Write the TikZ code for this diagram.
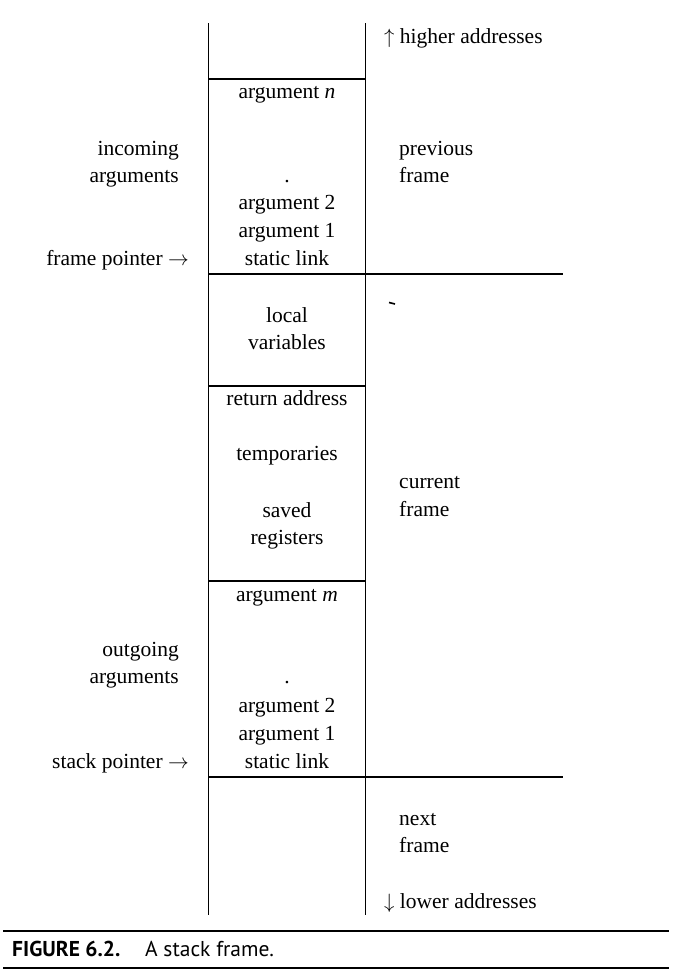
\documentclass[tikz,border=0pt]{standalone}
\usepackage{fontspec}
\setmainfont{Liberation Serif}
\newfontfamily\capfont{PT Sans}
\begin{document}
\begin{tikzpicture}[x=1pt,y=-1pt,
  lbl/.style={inner sep=0pt, font=\fontsize{21.5}{25}\selectfont},
  mid/.style={lbl, anchor=base},
  lft/.style={lbl, anchor=base east},
  rgt/.style={lbl, anchor=base west},
  wall/.style={line width=1.3pt},
  rulebar/.style={line width=2.6pt},
  captxt/.style={inner sep=0pt, anchor=base west, font=\capfont\fontsize{21.5}{24}\selectfont}]
\useasboundingbox (0,0) rectangle (673,975);
% stack walls
\draw[wall] (208.5,23) -- (208.5,915);
\draw[wall] (365.5,23) -- (365.5,915);
% separators
\draw[wall] (208.5,79) -- (365.5,79);
\draw[wall] (208.5,274) -- (563,274);
\draw[wall] (208.5,386) -- (365.5,386);
\draw[wall] (208.5,581) -- (365.5,581);
\draw[wall] (208.5,777) -- (563,777);
% stray mark
\draw[line width=1.6pt] (389,302.5) -- (395,304);
% right side labels
\node[rgt] (hi) at (384,43) {$\uparrow$ higher addresses};
\node[rgt] (prev1) at (399,155) {previous};
\node[rgt] (prev2) at (399,182) {frame};
\node[rgt] (cur1) at (399,488) {current};
\node[rgt] (cur2) at (399,516) {frame};
\node[rgt] (nxt1) at (399,825) {next};
\node[rgt] (nxt2) at (399,852) {frame};
\node[rgt] (lo) at (384,908) {$\downarrow$ lower addresses};
% left side labels
\node[lft] (inc1) at (179,155) {incoming};
\node[lft] (inc2) at (179,182) {arguments};
\node[lft] (fp) at (189,265) {frame pointer $\rightarrow$};
\node[lft] (out1) at (179,656) {outgoing};
\node[lft] (out2) at (179,683) {arguments};
\node[lft] (sp) at (189,768) {stack pointer $\rightarrow$};
% cell contents
\node[mid] (argn) at (287,98) {argument \textit{n}};
\node[mid] (dot1) at (287,182) {.};
\node[mid] (a2i) at (287,209) {argument 2};
\node[mid] (a1i) at (287,237) {argument 1};
\node[mid] (sli) at (287,265) {static link};
\node[mid] (loc1) at (287,322) {local};
\node[mid] (loc2) at (287,349) {variables};
\node[mid] (ret) at (287,405) {return address};
\node[mid] (tmp) at (287,460) {temporaries};
\node[mid] (sav1) at (287,517) {saved};
\node[mid] (sav2) at (287,544) {registers};
\node[mid] (argm) at (287,601) {argument \textit{m}};
\node[mid] (dot2) at (287,683) {.};
\node[mid] (a2o) at (287,712) {argument 2};
\node[mid] (a1o) at (287,740) {argument 1};
\node[mid] (slo) at (287,768) {static link};
% caption
\draw[rulebar] (3,931) -- (669,931);
\draw[rulebar] (3,968) -- (669,968);
\node[captxt] (fig) at (12,956) {\bfseries FIGURE 6.2.};
\node[captxt] (cap) at (145,956) {A stack frame.};
\end{tikzpicture}
\end{document}
